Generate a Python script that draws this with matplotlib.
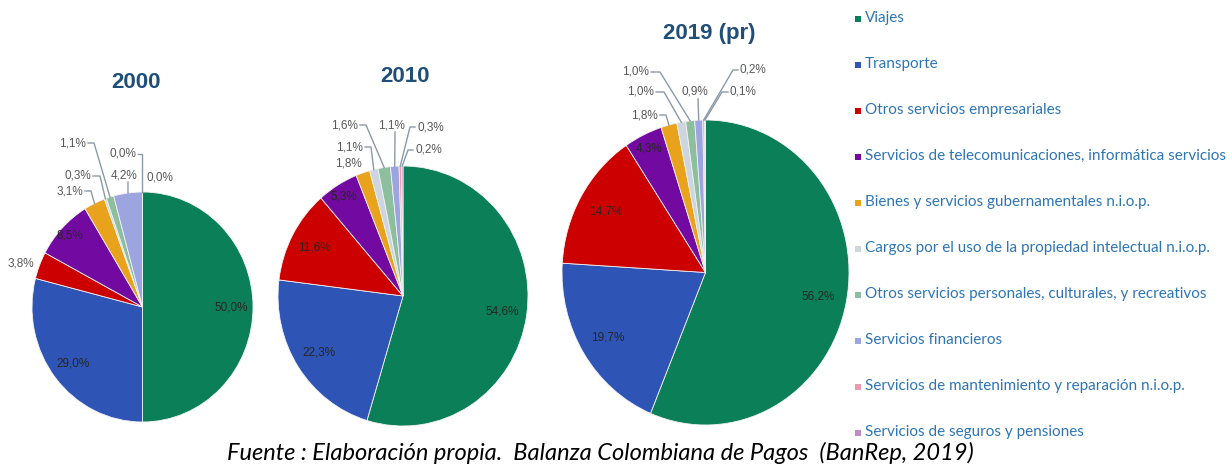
import matplotlib.pyplot as plt
import numpy as np

# configuracoes
W, H = 1232, 466
DPI = 100

# dados
categories = ['Viajes', 'Transporte', 'Otros servicios empresariales',
              'Servicios de telecomunicaciones, informática servicios',
              'Bienes y servicios gubernamentales n.i.o.p.',
              'Cargos por el uso de la propiedad intelectual n.i.o.p.',
              'Otros servicios personales, culturales, y recreativos',
              'Servicios financieros',
              'Servicios de mantenimiento y reparación n.i.o.p.',
              'Servicios de seguros y pensiones']
years = ['2000', '2010', '2019 (pr)']
shares_2000 = [50.0, 29.0, 3.8, 8.5, 3.1, 0.3, 1.1, 4.2, 0.0, 0.0]
shares_2010 = [54.6, 22.3, 11.6, 5.3, 1.8, 1.1, 1.6, 1.1, 0.3, 0.2]
shares_2019 = [56.2, 19.7, 14.7, 4.3, 1.8, 1.0, 1.0, 0.9, 0.2, 0.1]
source = 'Fuente : Elaboración propia.  Balanza Colombiana de Pagos  (BanRep, 2019)'

colors = ['#0A7F58', '#2E55B5', '#CC0000', '#7209A0', '#E8A21C',
          '#CDD6DE', '#8DBF9F', '#9DA5E0', '#E99AAD', '#C08CC8']
TITLE_COLOR = '#1F4E79'
LEGEND_COLOR = '#2E75B6'
LINE_COLOR = '#8a9aa8'

# layout de cada pizza: centro (px), raios (px), posicao do titulo
layouts = [
    dict(c=(142.5, 307), r=(110.5, 115), title=(136, 83)),
    dict(c=(403, 296), r=(125, 130), title=(405, 77)),
    dict(c=(705.5, 272.5), r=(143.5, 152.5), title=(709, 33)),
]

# rotulos externos: indice -> (texto x, texto y, ha, pontos da linha guia)
outside = [
    {2: (21, 264, 'center', []),
     4: (83, 191, 'right', [(85, 191), (91, 191)]),
     5: (91, 176, 'right', [(93, 176), (100, 176)]),
     6: (86, 143, 'right', [(88, 143), (94, 143)]),
     7: (124, 175, 'center', [(128, 182)]),
     8: (136, 154, 'right', [(138, 154), (142.5, 154)]),
     9: (160, 177, 'center', [])},
    {4: (362, 163, 'right', []),
     5: (363, 147, 'right', [(365, 147), (371, 147)]),
     6: (358, 125, 'right', [(360, 125), (366, 125)]),
     7: (391, 125, 'center', [(395, 132)]),
     8: (417, 127, 'left', [(415, 127), (410, 127)]),
     9: (415, 150, 'left', [(413, 150), (408, 150)])},
    {4: (658, 115, 'right', [(660, 115), (666, 115)]),
     5: (654, 92, 'right', [(656, 92), (664, 92)]),
     6: (649, 72, 'right', [(651, 72), (660, 72)]),
     7: (695, 92, 'center', [(698, 99)]),
     8: (740, 70, 'left', [(738, 70), (733, 70)]),
     9: (730, 92, 'left', [(728, 92), (722, 92)])},
]


def pct(v):
    return f'{v:.1f}%'.replace('.', ',')


plt.rcParams['font.family'] = ['Liberation Sans', 'DejaVu Sans']
fig = plt.figure(figsize=(W / DPI, H / DPI), dpi=DPI)
fig.patch.set_facecolor('white')

M = 1.7
for shares, year, lay, out in zip([shares_2000, shares_2010, shares_2019],
                                  years, layouts, outside):
    cx, cy = lay['c']
    rx, ry = lay['r']
    ax = fig.add_axes([(cx - M * rx) / W, (H - cy - M * ry) / H,
                       2 * M * rx / W, 2 * M * ry / H])
    wedges, _ = ax.pie(shares, colors=colors, startangle=90, counterclock=False,
                       wedgeprops=dict(edgecolor='#f2f2f2', linewidth=0.6))
    ax.set_aspect('auto')
    ax.set_xlim(-M, M)
    ax.set_ylim(-M, M)
    ax.axis('off')

    def to_data(p):
        return (p[0] - cx) / rx, (cy - p[1]) / ry

    for i, w in enumerate(wedges):
        mid = np.deg2rad((w.theta1 + w.theta2) / 2)
        if i not in out:
            r = 0.8 if shares[i] > 10 else 0.9
            ax.text(r * np.cos(mid), r * np.sin(mid), pct(shares[i]),
                    ha='center', va='center', fontsize=8.5, color='#262626')
            continue
        tx, ty, ha, pts = out[i]
        x, y = to_data((tx, ty))
        ax.text(x, y, pct(shares[i]), ha=ha, va='center', fontsize=8.5,
                color='#595959')
        if pts:
            xs = [to_data(p)[0] for p in pts] + [np.cos(mid)]
            ys = [to_data(p)[1] for p in pts] + [np.sin(mid)]
            ax.plot(xs, ys, color=LINE_COLOR, lw=1, clip_on=False)

    fig.text(lay['title'][0] / W, 1 - lay['title'][1] / H, year,
             ha='center', va='center', fontsize=16, fontweight='bold',
             color=TITLE_COLOR)

# legenda
lg = fig.add_axes([0, 0, 1, 1])
lg.set_xlim(0, W)
lg.set_ylim(H, 0)
lg.axis('off')
for k, (cat, col) in enumerate(zip(categories, colors)):
    y = 18 + 46 * k
    lg.scatter([858], [y + 1], marker='s', s=14, color=col, linewidths=0)
    lg.text(865, y, cat, ha='left', va='center', fontsize=11,
            family=['Lato', 'DejaVu Sans'], color=LEGEND_COLOR)

# fonte
lg.text(600, 453, source, ha='center', va='center', fontsize=17,
        style='italic', family=['Lato', 'DejaVu Sans'], color='black')

fig.savefig('out.png', dpi=DPI)
